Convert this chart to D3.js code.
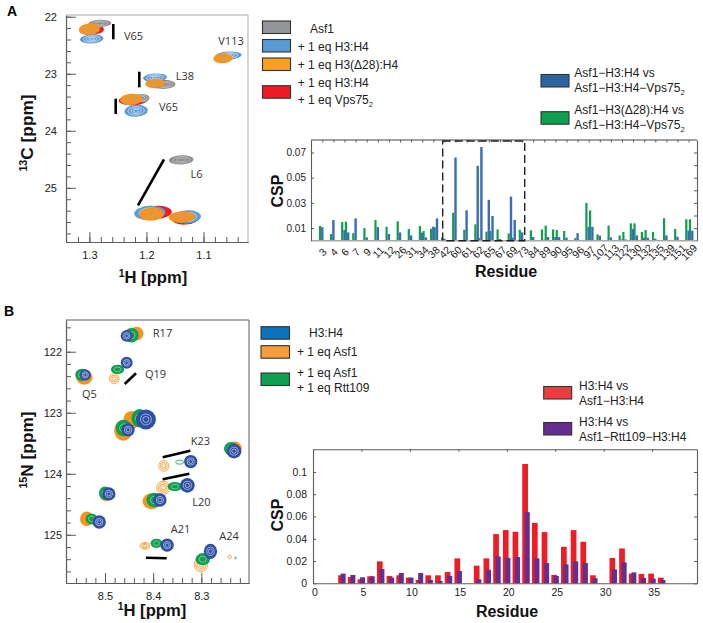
<!DOCTYPE html>
<html><head><meta charset="utf-8">
<script src="https://cdn.jsdelivr.net/npm/d3@7"></script>
<style>
html,body{margin:0;padding:0;background:#fff}
svg{display:block}
text{font-family:"Liberation Sans",Arial,sans-serif;fill:#222}
.lab{font-family:"Open Sans",sans-serif;font-size:11px;fill:#333}
.tick text{font-size:10.5px;fill:#222}
</style></head><body>
<svg id="c" width="703" height="623"></svg>
<script>
// ---- Panel A bar chart ----
const residuesA=["3","4","6","7","9","11","12","26","31","34","38","42","60","61","62","65","67","69","73","84","89","90","95","96","97","107","113","122","130","132","135","139","151","169"];
const methylResA=["3","4","6","6","7","9","11","12","26","31","34","34","38","38","42","60","61","62","62","65","65","67","69","69","73","84","89","89","90","90","95","96","97","97","107","113","122","122","130","130","132","132","135","139","151","169","169"];
const cspGreenA=[.0117,.0053,.0148,.0151,.006,.01,.0164,.0111,.0154,.0093,.0117,.0077,.0095,.0106,.0026,.0222,.0087,.013,.0021,.0072,.0077,.009,.0058,.0024,.0087,.0082,.009,.012,.009,.0085,.0077,.002,.03,.024,.005,.012,.0042,.0069,.0138,.0138,.0069,.0085,.0069,.0178,.0093,.017,.017];
const cspBlueA=[.0108,.0164,.0085,.0066,.0177,.0026,.0108,.0053,.0066,.0042,.0064,.0026,.0111,.0177,.0016,.066,.0241,.0594,.0743,.0324,.0196,.0013,.035,.0164,.0066,.0029,.0008,.0029,.0029,.0029,.0024,.006,.011,.011,.004,.0026,.001,.001,.0093,.0042,.0024,.0024,.0016,.0042,.0032,.008,.008];
const ticksYA=[.01,.03,.05,.07];
// ---- Panel B bar chart ----
const residuesB=[3,4,5,6,7,8,9,10,11,12,13,14,15,17,18,19,20,21,22,23,24,25,26,27,28,29,31,32,33,34,35,36];
const cspRedB=[.0072,.0057,.0036,.0063,.0197,.0066,.0072,.0051,.003,.0072,.0072,.0101,.0224,.0158,.0224,.0442,.0478,.0463,.1072,.0543,.046,.0075,.0328,.0478,.0373,.0072,.0227,.0313,.0087,.0084,.0087,.0051];
const cspPurpleB=[.0087,.0075,.0054,.0063,.0128,.0051,.0093,.0051,.0093,.003,.0021,.0066,.011,.0036,.0122,.0242,.0227,.0236,.0639,.0224,.0182,.0066,.017,.0197,.0182,.0045,.0125,.0188,.0098,.0048,.0042,.003];
const ticksXB=[0,5,10,15,20,25,30,35];
const ticksYB=[0,.02,.04,.06,.08,.1];
// ---- Spectrum A peaks: [1H, 13C, half-width 1H, half-width 13C] ----
const peaksARed=[[1.296,22.23,.0215,.09],[1.223,23.46,.0255,.095],[1.176,23.18,.0215,.075],[1.059,22.69,.0205,.07],[1.183,25.43,.0275,.115],[1.132,25.53,.0245,.115]];
const peaksABlue=[[1.296,22.39,.0205,.08],[1.218,23.65,.0205,.105],[1.185,23.07,.021,.075],[1.056,22.68,.023,.07],[1.194,25.44,.0275,.125],[1.129,25.51,.0245,.115]];
const peaksAGrey=[[1.282,22.12,.0205,.068],[1.208,23.43,.0135,.075],[1.167,23.19,.018,.075],[1.139,24.51,.0215,.08],[1.066,22.73,.015,.06],[1.191,25.46,.018,.08],[1.138,25.51,.02,.08]];
const peaksAOrange=[[1.3,22.22,.0185,.1],[1.227,23.45,.0195,.1],[1.185,23.17,.017,.08],[1.066,22.73,.017,.087],[1.191,25.46,.0215,.115],[1.138,25.51,.023,.1]];
// ---- Spectrum B peaks: [1H, 15N, half-width 1H, half-width 15N, open contour rings (0 = dense)] ----
const peaksBOrange=[[8.434,121.7,.0138,.11,0],[8.481,122.44,.0104,.08,3],[8.543,122.42,.017,.12,0],[8.445,123.12,.017,.15,0],[8.462,123.29,.019,.17,0],[8.378,123.87,.0104,.09,3],[8.379,124.23,.0138,.11,4],[8.231,123.58,.015,.11,0],[8.497,124.34,.0138,.11,0],[8.403,124.45,.019,.13,0],[8.538,124.74,.0138,.12,0],[8.417,125.18,.0104,.055,3],[8.301,125.49,.0138,.12,4],[8.241,125.36,.0035,.025,1]];
const peaksBGreen=[[8.445,121.73,.015,.12,0],[8.474,122.29,.0138,.076,0],[8.548,122.38,.0138,.1,0],[8.428,123.09,.017,.15,0],[8.461,123.25,.017,.136,0],[8.345,123.81,.0083,.033,1],[8.355,124.21,.015,.076,0],[8.238,123.59,.015,.11,0],[8.5,124.32,.0124,.11,0],[8.397,124.43,.017,.12,0],[8.528,124.74,.0124,.09,0],[8.393,125.14,.0124,.076,0],[8.297,125.4,.015,.1,0],[8.229,125.38,.0008,.02,1]];
const peaksBBlue=[[8.455,121.74,.0124,.098,0],[8.455,122.18,.0124,.098,0],[8.541,122.38,.0117,.093,0],[8.415,123.11,.0207,.163,0],[8.452,123.28,.0138,.109,0],[8.322,123.8,.0138,.109,0],[8.329,124.19,.0152,.12,0],[8.232,123.63,.0152,.12,0],[8.492,124.33,.0138,.109,0],[8.386,124.43,.0138,.109,0],[8.512,124.79,.0138,.109,0],[8.371,125.17,.0138,.109,0],[8.281,125.27,.0138,.125,0]];

const svg=d3.select("#c");
const GREY="#5c5c5c";
function style(g){g.selectAll("path.domain,line").attr("stroke",GREY);g.selectAll("path.domain").attr("stroke-width",1.1);}

function spectrum(cfg){
  const x=d3.scaleLinear().domain(cfg.xd).range([cfg.l,cfg.r]);
  const y=d3.scaleLinear().domain(cfg.yd).range([cfg.t,cfg.b]);
  const root=svg.append("g");
  const clip="cl"+cfg.l+cfg.t;
  svg.append("clipPath").attr("id",clip).append("rect").attr("x",cfg.l).attr("y",cfg.t).attr("width",cfg.r-cfg.l).attr("height",cfg.b-cfg.t);
  const marks=root.append("g").attr("clip-path",`url(#${clip})`);
  cfg.layers.forEach(L=>{
    const s=marks.append("g").selectAll("g").data(L.data).join("g")
      .attr("transform",d=>`translate(${x(d[0])},${y(d[1])}) rotate(${cfg.rot})`);
    s.each(function(d){
      const rx=Math.abs(x(d[0]+d[2])-x(d[0])), ry=Math.abs(y(d[1]+d[3])-y(d[1]));
      const g=d3.select(this), n=d[4]||0;
      if(n>0){
        d3.range(n).forEach(i=>g.append("ellipse").attr("rx",rx*(1-i/(n+.3))).attr("ry",ry*(1-i/(n+.3)))
          .attr("fill","none").attr("stroke",L.color).attr("stroke-width",.8));
      } else {
        g.append("ellipse").attr("rx",rx).attr("ry",ry).attr("fill",L.color);
        L.rings.forEach(f=>g.append("ellipse").attr("rx",rx*f).attr("ry",ry*f).attr("fill","none")
          .attr("stroke",L.ring).attr("stroke-width",.6).attr("opacity",L.op));
      }
    });
  });
  const gl=root.append("g").attr("transform",`translate(${cfg.l},0)`).call(d3.axisLeft(y).tickValues(cfg.yMinor).tickSizeInner(-5).tickSizeOuter(0).tickFormat(""));
  gl.call(style);
  const gL=root.append("g").attr("transform",`translate(${cfg.l},0)`).call(d3.axisLeft(y).tickValues(cfg.yMajor).tickSizeInner(-10).tickSizeOuter(0).tickPadding(cfg.yPad).tickFormat(d3.format("d")));
  gL.call(style); gL.selectAll("text").style("font-size","11px");
  const gb=root.append("g").attr("transform",`translate(0,${cfg.b})`).call(d3.axisBottom(x).tickValues(cfg.xMinor).tickSizeInner(-5).tickSizeOuter(0).tickFormat(""));
  gb.call(style);
  const gB=root.append("g").attr("transform",`translate(0,${cfg.b})`).call(d3.axisBottom(x).tickValues(cfg.xMajor).tickSizeInner(-10).tickSizeOuter(0).tickPadding(9).tickFormat(d3.format(".1f")));
  gB.call(style); gB.selectAll("text").style("font-size","11px");
  root.append("line").attr("x1",cfg.l).attr("x2",cfg.r).attr("y1",cfg.t).attr("y2",cfg.t).attr("stroke",cfg.topCol).attr("stroke-width",1.2);
  root.append("line").attr("x1",cfg.r).attr("x2",cfg.r).attr("y1",cfg.t).attr("y2",cfg.b).attr("stroke",cfg.topCol).attr("stroke-width",1);
  return {x,y};
}
const rng=(a,b,s)=>d3.range(Math.round((b-a)/s)+1).map(i=>+(a+i*s).toFixed(3));

spectrum({l:66,r:248,t:15,b:242,xd:[1.341,1.022],yd:[21.97,25.95],rot:-3,topCol:"#aaa",yPad:9,
  xMajor:[1.3,1.2,1.1],xMinor:rng(1.04,1.32,.02),yMajor:[22,23,24,25],yMinor:rng(22,25.8,.2),
  layers:[
   {data:peaksARed,color:"#ed1c24",rings:[],ring:"#fff",op:1},
   {data:peaksABlue,color:"#5b9bd5",rings:[.7,.45,.25],ring:"#fff",op:.9},
   {data:peaksAGrey,color:"#8f9093",rings:[.7,.4],ring:"#ddd",op:.8},
   {data:peaksAOrange,color:"#f7941d",rings:[.55,.3],ring:"#b9a27a",op:.9}
  ]});
spectrum({l:66,r:249,t:320,b:583,xd:[8.581,8.201],yd:[121.48,125.79],rot:0,topCol:GREY,yPad:4,
  xMajor:[8.5,8.4,8.3],xMinor:rng(8.22,8.56,.02),yMajor:[122,123,124,125],yMinor:rng(121.6,125.6,.2),
  layers:[
   {data:peaksBOrange,color:"#f7941d",rings:[],ring:"#fff",op:1},
   {data:peaksBGreen,color:"#0e9f4f",rings:[.5],ring:"#bfe6cc",op:.9},
   {data:peaksBBlue,color:"#2f4fa2",rings:[.55,.3],ring:"#dfe7f5",op:1}
  ]});

// Assignment strokes
const strokes=[[113.3,24,113.3,39.3],[139.3,71.7,139.3,87.3],[115.7,98.7,115.7,114],[164,159.3,138,205.3],
 [124.7,384,136,373.3],[162.7,457.3,190.3,450.7],[162.7,479.3,189.3,473.7],[146,557.7,166.7,558.3]];
svg.append("g").selectAll("line").data(strokes).join("line")
  .attr("x1",d=>d[0]).attr("y1",d=>d[1]).attr("x2",d=>d[2]).attr("y2",d=>d[3]).attr("stroke","#000").attr("stroke-width",2.6);

// Peak labels
const peakLabels=[["V65",133.5,40],["V113",231,45],["L38",185,80],["V65",168.5,111],["L6",196.5,178],
 ["R17",162.5,337],["Q19",155.5,378],["Q5",89.5,398],["K23",200.5,445],["L20",201.5,506],["A21",180.5,533],["A24",229,540]];
svg.append("g").selectAll("text").data(peakLabels).join("text").attr("class","lab")
  .attr("text-anchor","middle").attr("x",d=>d[1]).attr("y",d=>d[2]).text(d=>d[0]);

// Panel letters
[["A",7,16],["B",4,316]].forEach(d=>svg.append("text").attr("x",d[1]).attr("y",d[2]).attr("font-size",14).attr("font-weight",700).style("fill","#000").text(d[0]));

function axisTitle(sup,rest,x,y,rot,fs){
  const t=svg.append("text").attr("transform",`translate(${x},${y}) rotate(${rot})`).attr("text-anchor","middle")
    .attr("font-size",fs).attr("font-weight",700).style("fill","#111");
  if(sup){t.append("tspan").attr("font-size",fs*.62).attr("dy",-6).text(sup);t.append("tspan").attr("dy",6).text(rest);}
  else t.text(rest);
}
axisTitle("13","C [ppm]",33,133,-90,17.3);
axisTitle("1","H [ppm]",153,283,0,16.6);
axisTitle("15","N [ppm]",33,450,-90,17.3);
axisTitle("1","H [ppm]",152,616,0,16.6);
axisTitle("","CSP",283,191,-90,16);
axisTitle("","Residue",506,277,0,16);
axisTitle("","CSP",283,515,-90,16);
axisTitle("","Residue",507,617,0,16);

// Legends
function legend(items,bx,bw,bh,tx){
  items.forEach(it=>{
    svg.append("rect").attr("x",bx).attr("y",it.y).attr("width",bw).attr("height",bh).attr("fill",it.color).attr("stroke","#333").attr("stroke-width",1.1);
    it.lines.forEach(l=>{
      const t=svg.append("text").attr("x",l.x||tx).attr("y",l.y).attr("font-size",12).style("fill","#222");
      t.append("tspan").text(l.t);
      if(l.sub)t.append("tspan").attr("font-size",7.5).attr("dy",2.5).text(l.sub);
    });
  });
}
legend([
 {y:21,color:"#939598",lines:[{t:"Asf1",x:310,y:33}]},
 {y:39.5,color:"#5b9bd5",lines:[{t:"+ 1 eq H3:H4",y:51}]},
 {y:58,color:"#f7a11d",lines:[{t:"+ 1 eq H3(Δ28):H4",y:69}]},
 {y:85.7,color:"#ed1c24",lines:[{t:"+ 1 eq H3:H4",y:87},{t:"+ 1 eq Vps75",sub:"2",y:104}]}
],262.5,28,12.5,297.7);
legend([
 {y:74.5,color:"#2f659f",lines:[{t:"Asf1−H3:H4 vs",y:77},{t:"Asf1−H3:H4−Vps75",sub:"2",y:92}]},
 {y:111.7,color:"#0e9f4f",lines:[{t:"Asf1−H3(Δ28):H4 vs",y:113.5},{t:"Asf1−H3:H4−Vps75",sub:"2",y:129}]}
],541,28,12.5,574.3);
legend([
 {y:326.7,color:"#0c72ba",lines:[{t:"H3:H4",x:309,y:337}]},
 {y:345.7,color:"#f99d3c",lines:[{t:"+ 1 eq Asf1",y:355.7}]},
 {y:373,color:"#0e9f4f",lines:[{t:"+ 1 eq Asf1",y:376.7},{t:"+ 1 eq Rtt109",y:391.7}]}
],261,28.5,12.5,297);
legend([
 {y:386.5,color:"#ef3b3f",lines:[{t:"H3:H4 vs",y:390},{t:"Asf1−H3:H4",y:405}]},
 {y:422.5,color:"#662d91",lines:[{t:"H3:H4 vs",y:426},{t:"Asf1−Rtt109−H3:H4",y:441}]}
],543.7,28,12.5,579);

// Panel A bars
(function(){
  const L=311,R=697,T=140,B=240.7;
  const x=d3.scalePoint().domain(residuesA).range([322.3,688.6]);
  const y=d3.scaleLinear().domain([0,.0799]).range([B,T]);
  const seen={};
  const rows=methylResA.map((r,i)=>{seen[r]=(seen[r]||0)+1;return {r,g:cspGreenA[i],b:cspBlueA[i],k:seen[r]-1};});
  const sub=3.7;
  const g=svg.append("g");
  g.selectAll("rect.g").data(rows).join("rect").attr("class","g")
    .attr("x",d=>x(d.r)+d.k*sub-3.4).attr("width",2.2).attr("y",d=>y(d.g)).attr("height",d=>B-y(d.g)).attr("fill","#0e9f4f");
  g.selectAll("rect.b").data(rows).join("rect").attr("class","b")
    .attr("x",d=>x(d.r)+d.k*sub-1.2).attr("width",2.4).attr("y",d=>y(d.b)).attr("height",d=>B-y(d.b)).attr("fill","#3a6cb8");
  const gb=svg.append("g").attr("transform",`translate(0,${B})`).call(d3.axisBottom(x).tickSize(0));
  gb.select("path.domain").remove();
  gb.selectAll("text").attr("text-anchor","middle").attr("y",0).attr("dy",".35em").attr("transform","translate(0,11.5) rotate(-45)").style("font-size","10.5px");
  svg.append("line").attr("x1",L).attr("x2",R).attr("y1",B).attr("y2",B).attr("stroke","#a8a8a8").attr("stroke-width",1.4);
  const gt=svg.append("g").attr("transform",`translate(0,${T})`).call(d3.axisTop(x).tickSizeInner(-2.5).tickSizeOuter(0).tickFormat(""));
  gt.select("path.domain").remove(); gt.call(style);
  svg.append("line").attr("x1",L).attr("x2",R).attr("y1",T).attr("y2",T).attr("stroke","#444").attr("stroke-width",1.1);
  const gl=svg.append("g").attr("transform",`translate(${L},0)`).call(d3.axisLeft(y).tickValues(ticksYA).tickSizeInner(-3).tickSizeOuter(0).tickPadding(5).tickFormat(d3.format(".2f")));
  gl.call(style); gl.selectAll("text").style("font-size","10px");
  const gr=svg.append("g").attr("transform",`translate(${R},0)`).call(d3.axisRight(y).tickValues(d3.range(1,8).map(d=>d/100)).tickSizeInner(-3).tickSizeOuter(0).tickFormat(""));
  gr.call(style);
  // dashed selection box
  svg.append("rect").attr("x",442.7).attr("y",141).attr("width",82).attr("height",99.7).attr("fill","none")
    .attr("stroke","#222").attr("stroke-width",1.4).attr("stroke-dasharray","8 4");
})();

// Panel B bars
(function(){
  const L=313,R=697,T=449.3,B=583.3;
  const x=d3.scaleLinear().domain([0,39.63]).range([L,R]);
  const y=d3.scaleLinear().domain([0,.1204]).range([B,T]);
  const g=svg.append("g");
  g.selectAll("rect.r").data(residuesB).join("rect").attr("class","r")
    .attr("x",d=>x(d)-3.9).attr("width",5.7).attr("y",(d,i)=>y(cspRedB[i])).attr("height",(d,i)=>B-y(cspRedB[i])).attr("fill","#ee1c25");
  g.selectAll("rect.p").data(residuesB).join("rect").attr("class","p")
    .attr("x",d=>x(d)-1.4).attr("width",5).attr("y",(d,i)=>y(cspPurpleB[i])).attr("height",(d,i)=>B-y(cspPurpleB[i])).attr("fill","#662d91");
  const gb=svg.append("g").attr("transform",`translate(0,${B})`).call(d3.axisBottom(x).tickValues(ticksXB).tickSizeInner(0).tickSizeOuter(0).tickPadding(5).tickFormat(d3.format("d")));
  gb.call(style); gb.selectAll("text").attr("dx",1.5).style("font-size","10.5px");
  const gt=svg.append("g").attr("transform",`translate(0,${T})`).call(d3.axisTop(x).tickValues(ticksXB).tickSizeInner(-2.5).tickSizeOuter(0).tickFormat(""));
  gt.call(style);
  const gl=svg.append("g").attr("transform",`translate(${L},0)`).call(d3.axisLeft(y).tickValues(ticksYB).tickSizeInner(-3).tickSizeOuter(0).tickPadding(6).tickFormat(d=>d===0?"0":d3.format(".2~f")(d)));
  gl.call(style); gl.selectAll("text").style("font-size","10.5px");
  const gr=svg.append("g").attr("transform",`translate(${R},0)`).call(d3.axisRight(y).tickValues(ticksYB).tickSizeInner(-3).tickSizeOuter(0).tickFormat(""));
  gr.call(style);
})();
</script></body></html>
